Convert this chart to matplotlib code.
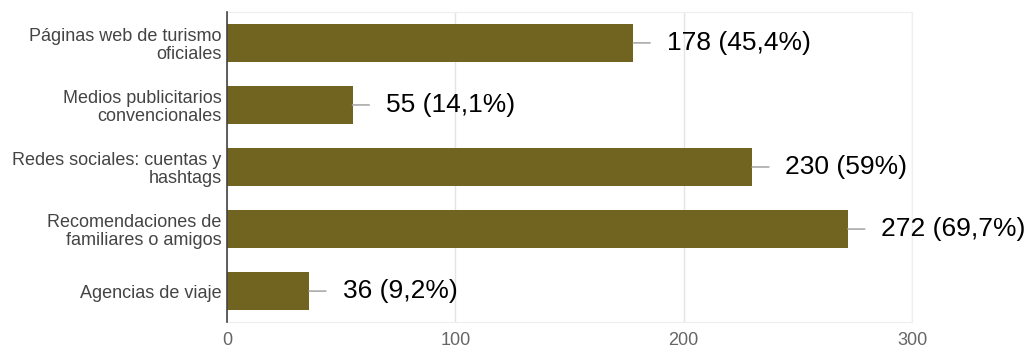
import matplotlib
matplotlib.use("Agg")
import matplotlib.pyplot as plt

plt.rcParams['font.family'] = ['Liberation Sans', 'DejaVu Sans']

categories = [
    "Páginas web de turismo\noficiales",
    "Medios publicitarios\nconvencionales",
    "Redes sociales: cuentas y\nhashtags",
    "Recomendaciones de\nfamiliares o amigos",
    "Agencias de viaje",
]
counts = [178, 55, 230, 272, 36]
value_labels = ["178 (45,4%)", "55 (14,1%)", "230 (59%)", "272 (69,7%)", "36 (9,2%)"]
x_ticks = [0, 100, 200, 300]

bar_color = "#716421"

fig = plt.figure(figsize=(10.27, 3.49), dpi=100)
ax = fig.add_axes([0.221, 0.077, 0.667, 0.889])

y = list(range(len(categories)))
ax.barh(y, counts, height=0.61, color=bar_color, zorder=3)

for yi, c, lab in zip(y, counts, value_labels):
    # short grey leader line then the value label
    ax.annotate("", xy=(c, yi), xytext=(12, 0), textcoords="offset points",
                arrowprops=dict(arrowstyle="-", color="#aaaaaa", lw=1.2,
                                shrinkA=0, shrinkB=0))
    ax.annotate(lab, xy=(c, yi), xytext=(24, 0), textcoords="offset points",
                ha="left", va="center", fontsize=19, color="black")

ax.set_xlim(0, 300)
ax.set_ylim(4.5, -0.5)
ax.set_xticks(x_ticks)
ax.set_xticklabels([str(t) for t in x_ticks], color="#666666", fontsize=13)
ax.set_yticks(y)
ax.set_yticklabels(categories, color="#444444", fontsize=13, linespacing=1.1,
                   multialignment="right")
ax.tick_params(axis="both", length=0)
ax.tick_params(axis="y", pad=4)
ax.tick_params(axis="x", pad=7)

ax.grid(axis="x", color="#e4e4e4", lw=1, zorder=0)
for s in ["top", "right", "bottom"]:
    ax.spines[s].set_color("#eeeeee")
ax.spines["left"].set_color("#444444")
ax.spines["left"].set_linewidth(1.2)
ax.spines["left"].set_zorder(4)

fig.savefig("out.png", dpi=100)
